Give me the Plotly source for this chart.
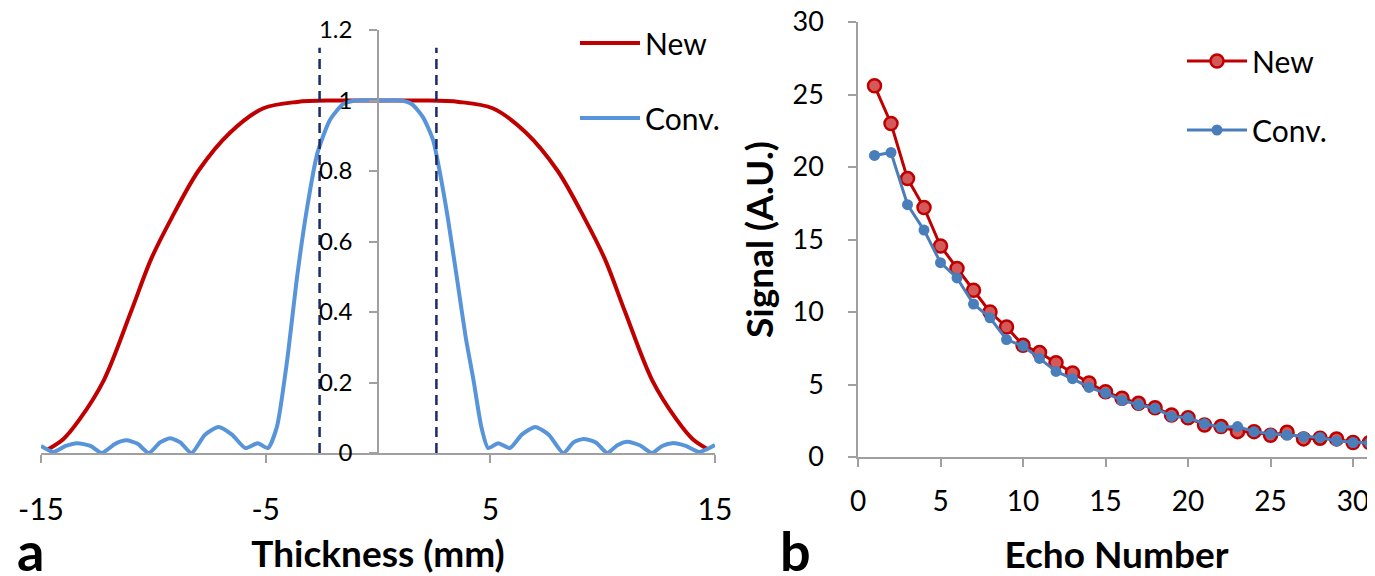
import plotly.graph_objects as go

# panel a: slice profiles vs thickness (mm)
thick_new = [-14.7, -14, -13.3, -12.2, -11, -10.1, -9.2, -8, -6.6, -5.1, -3.6, -2, 0,
             2, 3.6, 5.1, 6.6, 8, 9.2, 10.1, 11, 12.2, 13.3, 14, 14.7]
prof_new = [0.01, 0.04, 0.094, 0.207, 0.40, 0.55, 0.665, 0.80, 0.908, 0.978, 0.996, 1.0, 1.0,
            1.0, 0.996, 0.978, 0.908, 0.80, 0.665, 0.55, 0.40, 0.207, 0.094, 0.04, 0.01]

thick_conv = [-15, -14.45, -13.9, -13.4, -12.8, -12.3, -11.7, -11.2, -10.7, -10.2,
              -9.7, -9.25, -8.8, -8.3, -7.7, -7.1, -6.5, -5.9, -5.35, -4.9,
              -4.5, -4.05, -3.6, -3.17, -2.7, -2.14, -1.55, -1.0, 0, 1.0,
              1.5, 2.0, 2.45, 2.8, 3.1, 3.55, 3.9, 4.25, 4.6, 4.9,
              5.35, 5.87, 6.4, 7.0, 7.6, 8.25, 8.7, 9.15, 9.7, 10.2,
              10.65, 11.1, 11.65, 12.2, 12.65, 13.1, 13.7, 14.3, 15]
prof_conv = [0.02, 0.003, 0.02, 0.028, 0.02, 0.0, 0.026, 0.036, 0.026, 0.0,
             0.03, 0.042, 0.03, 0.0, 0.052, 0.074, 0.052, 0.014, 0.028, 0.014,
             0.074, 0.26, 0.50, 0.69, 0.85, 0.945, 0.99, 1.0, 1.0, 1.0,
             0.99, 0.953, 0.888, 0.78, 0.67, 0.48, 0.33, 0.207, 0.074, 0.014,
             0.028, 0.014, 0.052, 0.074, 0.052, 0.0, 0.03, 0.04, 0.03, 0.0,
             0.022, 0.032, 0.022, 0.0, 0.02, 0.028, 0.02, 0.003, 0.023]

slice_edges = [-2.6, 2.6]
edge_top = 1.15

thick_ticks = [-15, -5, 5, 15]
thick_ticktext = ['-15', '-5', '5', '15']

# panel b: echo train signal
echo = list(range(1, 32))
sig_new = [25.6, 23.0, 19.2, 17.2, 14.55, 13.0, 11.5, 10.0, 8.97, 7.7,
           7.2, 6.5, 5.8, 5.1, 4.5, 4.05, 3.7, 3.4, 2.9, 2.7,
           2.2, 2.1, 1.75, 1.75, 1.5, 1.7, 1.25, 1.3, 1.25, 1.0, 1.0]
sig_conv = [20.8, 21.0, 17.4, 15.65, 13.4, 12.35, 10.55, 9.6, 8.1, 7.65,
            6.8, 5.9, 5.4, 4.8, 4.4, 3.9, 3.6, 3.35, 2.8, 2.7,
            2.3, 2.05, 2.1, 1.75, 1.6, 1.5, 1.4, 1.35, 1.1, 1.0, 0.95]

RED = '#C00000'
BLUE_A = '#5894DA'
BLUE_B = '#4A7EBB'
NAVY = '#1C2A66'
AXIS = '#A0A0A0'
FONT = 'Lato'

# page body has an 8px margin, so the figure is sized to fit the 1375x576 window
W, H, OFF = 1367, 568, 8


def px_x(p):
    return (p - OFF) / W


def px_y(p):
    return 1 - (p - OFF) / H


fig = go.Figure()

fig.add_trace(go.Scatter(x=thick_new, y=prof_new, mode='lines', name='New',
                         line=dict(color=RED, width=4, shape='spline', smoothing=0.9),
                         xaxis='x', yaxis='y', legend='legend', legendgroup='a1'))
fig.add_trace(go.Scatter(x=thick_conv, y=prof_conv, mode='lines', name='Conv.',
                         line=dict(color=BLUE_A, width=4, shape='spline', smoothing=0.6),
                         xaxis='x', yaxis='y', legend='legend', legendgroup='a2'))
for xe in slice_edges:
    fig.add_trace(go.Scatter(x=[xe, xe], y=[0, edge_top], mode='lines', showlegend=False,
                             line=dict(color=NAVY, width=2.5, dash='10px,6px'),
                             xaxis='x', yaxis='y', hoverinfo='skip'))

fig.add_trace(go.Scatter(x=echo, y=sig_new, mode='lines+markers', name='New',
                         line=dict(color=RED, width=3),
                         marker=dict(size=13, color='#D45A5A', line=dict(color=RED, width=2.5)),
                         xaxis='x2', yaxis='y2', legend='legend2', legendgroup='b1',
                         cliponaxis=False))
fig.add_trace(go.Scatter(x=echo, y=sig_conv, mode='lines+markers', name='Conv.',
                         line=dict(color=BLUE_B, width=3),
                         marker=dict(size=11, color=BLUE_B),
                         xaxis='x2', yaxis='y2', legend='legend2', legendgroup='b2',
                         cliponaxis=False))

ax_common = dict(showgrid=False, zeroline=False, showline=True, linecolor=AXIS, linewidth=1.5,
                 ticks='outside', ticklen=8, tickcolor=AXIS, tickwidth=1.5, automargin=False,
                 ticklabeloverflow='allow',
                 tickfont=dict(family=FONT, size=28, color='black'))
title_font = dict(family=FONT, size=37, color='black')

fig.update_layout(
    width=W, height=H,
    margin=dict(l=0, r=0, t=0, b=0, autoexpand=False),
    paper_bgcolor='white', plot_bgcolor='white',
    font=dict(family=FONT, color='black'),
    xaxis=dict(ax_common, domain=[px_x(41), px_x(715)], range=[-15, 15],
               tickvals=thick_ticks, ticktext=thick_ticktext,
               anchor='y', ticklabelstandoff=21, tickfont=dict(family=FONT, size=30, color='black'),
               title=dict(text='<b>Thickness (mm)</b>', font=title_font, standoff=16)),
    yaxis=dict(ax_common, domain=[px_y(453), px_y(30)], range=[0, 1.2], dtick=0.2,
               anchor='free', position=px_x(378), ticklabelstandoff=12,
               tickfont=dict(family=FONT, size=24, color='black')),
    xaxis2=dict(ax_common, domain=[px_x(858), 1.0], range=[0, 31.33], dtick=5,
                anchor='y2', ticklabelstandoff=11,
                title=dict(text='<b>Echo Number</b>', font=title_font, standoff=28)),
    yaxis2=dict(ax_common, domain=[px_y(457), px_y(22)], range=[0, 30], dtick=5,
                anchor='x2', ticklabelstandoff=19, tickfont=dict(family=FONT, size=27, color='black'),
                title=dict(text='<b>Signal (A.U.)</b>', font=title_font, standoff=8)),
    legend=dict(x=px_x(575), y=px_y(17), xanchor='left', yanchor='top', traceorder='grouped',
                tracegroupgap=33, itemwidth=60, bgcolor='rgba(0,0,0,0)',
                font=dict(family=FONT, size=30, color='black')),
    legend2=dict(x=px_x(1182), y=px_y(35), xanchor='left', yanchor='top', traceorder='grouped',
                 tracegroupgap=27, itemwidth=60, bgcolor='rgba(0,0,0,0)',
                 font=dict(family=FONT, size=30, color='black')),
    annotations=[
        dict(text='<b>a</b>', x=px_x(30), y=px_y(585), xref='paper', yref='paper',
             xanchor='center', yanchor='bottom', showarrow=False, font=dict(family=FONT, size=54)),
        dict(text='<b>b</b>', x=px_x(795), y=px_y(585), xref='paper', yref='paper',
             xanchor='center', yanchor='bottom', showarrow=False, font=dict(family=FONT, size=54)),
    ],
)

fig.write_html('out.html')
